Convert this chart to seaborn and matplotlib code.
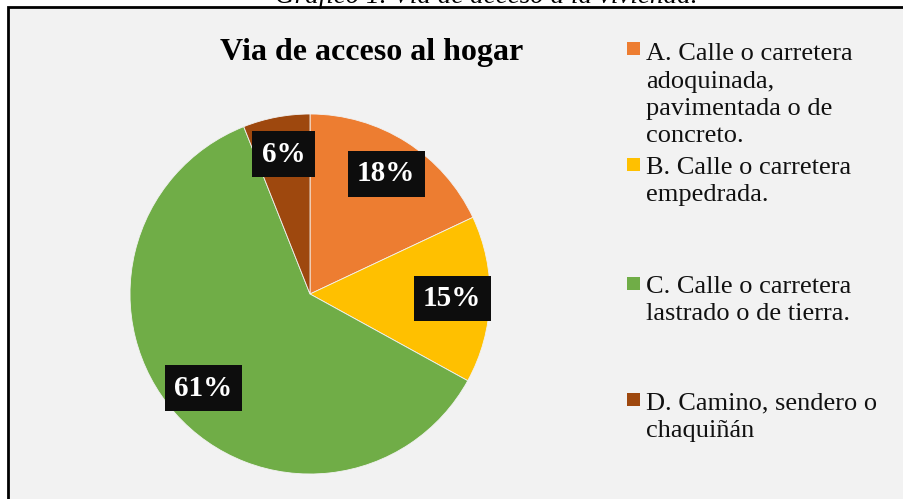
import matplotlib
matplotlib.use("Agg")
import matplotlib.pyplot as plt
import matplotlib.patches as mpatches
import seaborn as sns

# data
categories = [
    "A. Calle o carretera\nadoquinada,\npavimentada o de\nconcreto.",
    "B. Calle o carretera\nempedrada.",
    "C. Calle o carretera\nlastrado o de tierra.",
    "D. Camino, sendero o\nchaquiñán",
]
shares = [18, 15, 61, 6]
colors = ["#ED7D31", "#FFC000", "#70AD47", "#9E480E"]

W, H = 904, 499
LINE = 28.5  # legend line step, px

sns.set_theme(style="white")
plt.rcParams['font.family'] = ['Liberation Serif', 'DejaVu Serif']
plt.rcParams['text.color'] = 'black'

fig = plt.figure(figsize=(W / 100, H / 100), dpi=100)
fig.patch.set_facecolor("white")

# chart area frame (only top and left edges visible)
fig.patches.append(mpatches.Rectangle(
    (8 / W, -0.2), 1.2, 1.2 - 7 / H, transform=fig.transFigure,
    facecolor="#F2F2F2", edgecolor="black", linewidth=2, zorder=-5))

# caption cut off at the top
fig.text(486 / W, 1 - 3 / H, "Gráfico 1. Vía de acceso a la vivienda.",
         ha="center", va="baseline", fontsize=19.5, style="italic")

fig.text(372 / W, 1 - 60 / H, "Via de acceso al hogar",
         ha="center", va="baseline", fontsize=23, fontweight="bold")

ax = fig.add_axes([130 / W, 25 / H, 360 / W, 360 / H])
wedges, texts, autotexts = ax.pie(
    shares, colors=colors, startangle=90, counterclock=False,
    autopct=lambda p: f"{p:.0f}%", pctdistance=0.79,
    wedgeprops=dict(linewidth=0.6, edgecolor="#F2F2F2"),
    textprops=dict(color="white", fontsize=21, fontweight="bold"))
for t in autotexts:
    t.set_bbox(dict(boxstyle="square,pad=0.32", facecolor="#0D0D0D", edgecolor="none"))
ax.set_xlim(-1, 1)
ax.set_ylim(-1, 1)
ax.axis("off")

# legend (first-line baselines in px)
baselines = [57, 173, 292, 408]
for lab, col, base in zip(categories, colors, baselines):
    n = lab.count("\n")
    fig.patches.append(mpatches.Rectangle(
        (627 / W, 1 - (base - 2) / H), 13 / W, 13 / H,
        transform=fig.transFigure, facecolor=col, edgecolor="none"))
    fig.text(646 / W, 1 - (base + n * LINE) / H, lab, ha="left", va="baseline",
             fontsize=19, linespacing=1.32, color="#111111")

fig.savefig("out.png", dpi=100, facecolor=fig.get_facecolor())
